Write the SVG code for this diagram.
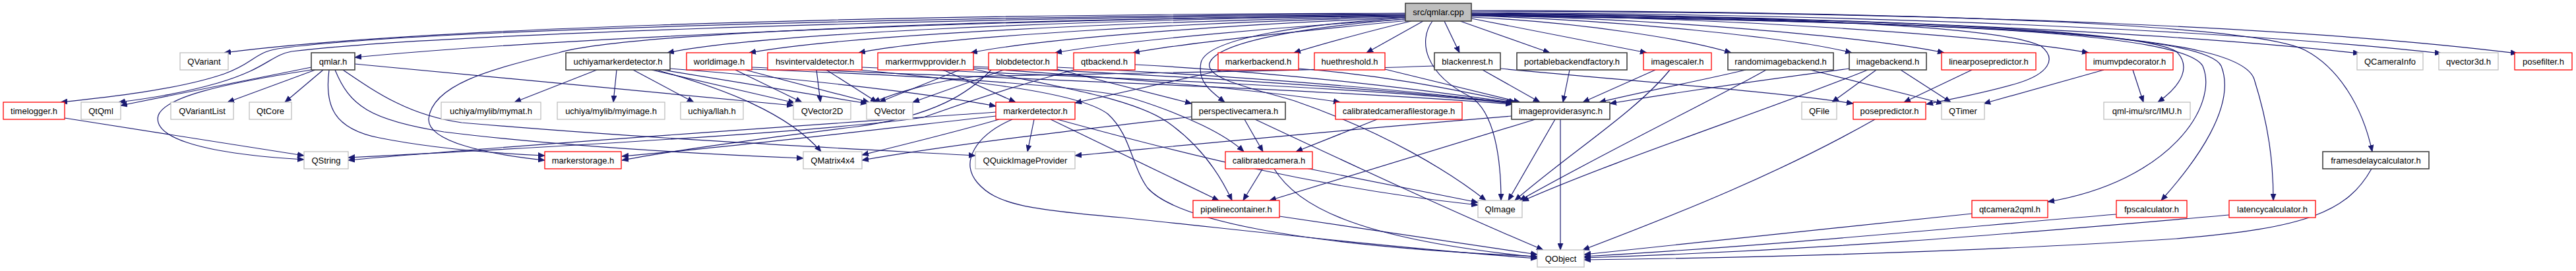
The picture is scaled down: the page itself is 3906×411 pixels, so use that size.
<svg xmlns="http://www.w3.org/2000/svg" width="3906" height="411" viewBox="0 0 3906 411">
<defs>
<style>
.n rect{fill:#fff;stroke-width:1.3}
.red rect{stroke:#ff0000}
.gry rect{stroke:#bfbfbf}
.blk rect{stroke:#404040;stroke-width:1.6}
.root rect{fill:#bfbfbf;stroke:#404040;stroke-width:1.6}
.n text{font-family:"Liberation Sans",Arial,sans-serif;font-size:13px;fill:#000;text-anchor:middle}
#edges path{fill:none;stroke:#191970;stroke-width:1.2;marker-end:url(#a)}
</style>
<marker id="a" markerUnits="userSpaceOnUse" markerWidth="11" markerHeight="9" refX="10" refY="4.5" orient="auto"><path d="M0,0.5L10,4.5L0,8.5z" fill="#191970" stroke="#191970" stroke-width="0.8"/></marker>
</defs>
<rect width="3906" height="411" fill="#fff"/>
<g id="edges">
<path d="M2131,20 C1240,22 600,46 340,80"/>
<path d="M2131,21 C1300,26 600,48 421,74 C385,80 385,96 340,112 C270,136 160,148 92,155"/>
<path d="M2131,22 C1300,28 620,56 442,78 C410,84 405,104 330,126 C270,143 220,150 180,155"/>
<path d="M2131,23 C1400,30 800,62 538,87"/>
<path d="M2131,24 C1600,30 1150,52 1012,80"/>
<path d="M2131,25 C1700,32 1280,54 1136,80"/>
<path d="M2131,26 C1800,34 1420,56 1302,80"/>
<path d="M2131,27 C1880,36 1580,58 1472,80"/>
<path d="M2133,29 C1950,40 1700,62 1600,80"/>
<path d="M2136,31 C2000,44 1790,66 1718,80"/>
<path d="M2140,32 C2080,46 2000,68 1962,80"/>
<path d="M2158,32 L2072,80"/>
<path d="M2190,32 L2213,80"/>
<path d="M2214,32 L2350,80"/>
<path d="M2231,28 L2497,80"/>
<path d="M2231,26 C2400,34 2560,60 2625,80"/>
<path d="M2231,24 C2460,30 2720,58 2808,80"/>
<path d="M2231,23 C2520,28 2830,56 2948,80"/>
<path d="M2231,22 C2620,26 3020,54 3167,80"/>
<path d="M2231,20 C2800,24 3320,52 3578,81"/>
<path d="M2231,19 C2900,22 3420,50 3702,81"/>
<path d="M2231,17 C3000,18 3520,44 3817,81"/>
<path d="M2231,21 C2900,28 3250,48 3300,78 C3322,100 3310,128 3272,155"/>
<path d="M2231,22 C2950,32 3310,50 3340,100 C3365,160 3290,275 3105,306"/>
<path d="M2231,23 C3000,34 3345,52 3368,100 C3392,160 3330,245 3277,304"/>
<path d="M2231,24 C3050,34 3395,52 3418,120 C3440,190 3447,245 3447,304"/>
<path d="M2231,16 C2950,18 3420,38 3495,76 C3545,102 3582,160 3597,230"/>
<path d="M2231,21 C2700,26 3030,38 3095,70 C3120,90 3105,112 3060,126 C3010,141 2960,150 2921,158"/>
<path d="M2131,27 C1990,36 1830,56 1821,95 C1815,125 1838,140 1857,155"/>
<path d="M2131,29 C1990,40 1845,62 1834,96 C1828,120 1900,134 1963,153 C2100,200 2200,262 2253,304"/>
<path d="M2172,32 C2150,62 2160,112 2230,147 C2266,170 2276,240 2276,304"/>
<path d="M2131,24 C1500,28 950,50 847,80 C740,105 655,130 650,180 C648,215 740,234 826,243"/>
<path d="M472,102 L183,160"/>
<path d="M472,106 C330,128 250,148 240,175 C232,205 290,232 461,242"/>
<path d="M478,106 L345,155"/>
<path d="M490,106 L432,155"/>
<path d="M499,106 C492,160 505,195 575,209 C650,224 740,232 826,236"/>
<path d="M508,106 C530,160 560,182 673,200 C850,222 1050,233 1218,240"/>
<path d="M520,106 C570,140 620,175 700,186 C1000,212 1300,226 1479,236"/>
<path d="M538,97 L1203,160"/>
<path d="M98,179 L461,236"/>
<path d="M905,106 L780,155"/>
<path d="M935,106 L930,155"/>
<path d="M960,106 L1052,155"/>
<path d="M988,106 L1205,156"/>
<path d="M995,106 C1100,135 1195,172 1245,230"/>
<path d="M1005,106 L1315,157"/>
<path d="M1016,104 C1200,118 1400,140 1510,161"/>
<path d="M1115,106 L1216,155"/>
<path d="M1130,106 L1318,155"/>
<path d="M1140,102 C1500,118 2000,135 2293,158"/>
<path d="M1140,105 C1400,115 1650,130 1720,150 C1800,175 1860,205 1886,230"/>
<path d="M1238,106 L1244,155"/>
<path d="M1253,106 L1330,155"/>
<path d="M1307,102 C1700,118 2100,135 2294,157"/>
<path d="M1303,106 C1500,125 1640,142 1680,173 C1715,205 1715,250 1740,285 C1780,330 1950,372 2331,389"/>
<path d="M1430,106 L1540,155"/>
<path d="M1455,106 L1333,155"/>
<path d="M1476,101 C1800,115 2100,135 2295,156"/>
<path d="M1476,105 C1600,130 1720,150 1770,185 C1820,220 1850,265 1868,304"/>
<path d="M1476,103 C1700,118 1900,135 2032,155"/>
<path d="M1522,106 L1384,155"/>
<path d="M1603,105 L1807,157"/>
<path d="M1603,102 C1900,116 2150,138 2296,157"/>
<path d="M1503,106 C1470,140 1420,175 1300,192 C1150,210 1000,232 943,243"/>
<path d="M1628,106 C1540,130 1450,160 1400,178 C1250,200 800,225 528,239"/>
<path d="M1721,98 C1950,110 2150,135 2297,156"/>
<path d="M1855,106 L1630,156"/>
<path d="M1969,104 C2100,114 2200,135 2298,155"/>
<path d="M2100,105 L2305,155"/>
<path d="M2248,106 L2335,155"/>
<path d="M2175,100 C1900,110 1600,112 1480,116 C1420,122 1360,140 1324,155"/>
<path d="M2275,104 C2500,125 2700,140 2810,157"/>
<path d="M2380,106 L2370,155"/>
<path d="M2510,106 L2400,155"/>
<path d="M2532,106 C2480,170 2380,232 2297,304"/>
<path d="M2647,106 C2580,122 2500,137 2425,155"/>
<path d="M2678,106 C2600,150 2450,222 2304,304"/>
<path d="M2745,106 L2946,157"/>
<path d="M2804,104 C2650,124 2520,144 2441,157"/>
<path d="M2832,106 C2700,160 2450,242 2308,305"/>
<path d="M2845,106 L2778,155"/>
<path d="M2882,106 L2958,155"/>
<path d="M2990,106 L2887,155"/>
<path d="M3190,106 L3008,157"/>
<path d="M3234,106 L3250,155"/>
<path d="M1510,170 C1300,185 800,218 528,243"/>
<path d="M1510,176 C1350,194 1100,224 943,237"/>
<path d="M1515,181 C1450,200 1360,222 1307,235"/>
<path d="M1568,181 L1558,230"/>
<path d="M1593,181 L1848,304"/>
<path d="M1603,181 C1800,235 2000,285 2241,311"/>
<path d="M1535,181 C1480,205 1455,245 1482,277 C1510,310 1560,318 1701,330 C1850,345 2100,375 2331,392"/>
<path d="M1887,181 L1915,230"/>
<path d="M1807,177 C1650,195 1450,218 1307,243"/>
<path d="M1903,181 C2050,250 2200,320 2340,379"/>
<path d="M2088,181 L1965,230"/>
<path d="M2292,176 C2000,200 1800,220 1630,236"/>
<path d="M2328,181 L1925,304"/>
<path d="M2358,181 L2287,304"/>
<path d="M2366,181 L2366,379"/>
<path d="M1915,255 L1885,304"/>
<path d="M1980,255 L2241,307"/>
<path d="M1932,256 C1965,310 2050,362 2331,390"/>
<path d="M1940,328 L2331,386"/>
<path d="M2843,181 C2700,262 2550,322 2400,379"/>
<path d="M2990,324 L2402,386"/>
<path d="M3209,325 C3000,342 2700,372 2402,389"/>
<path d="M3380,326 C3100,350 2800,378 2402,391"/>
<path d="M3596,256 C3560,320 3500,346 3300,362 C3000,382 2700,390 2402,394"/>
</g>
<g id="node-root" class="n root"><rect x="2131" y="5" width="100" height="27"/><text x="2181" y="23">src/qmlar.cpp</text></g>
<g id="node-QVariant" class="n gry"><rect x="273" y="80" width="73" height="26"/><text x="309.5" y="97.5">QVariant</text></g>
<g id="node-qmlar" class="n blk"><rect x="472" y="80" width="66" height="26"/><text x="505" y="97.5">qmlar.h</text></g>
<g id="node-uchiyamarkerdetector" class="n blk"><rect x="858" y="80" width="158" height="26"/><text x="937" y="97.5">uchiyamarkerdetector.h</text></g>
<g id="node-worldimage" class="n red"><rect x="1041" y="80" width="99" height="26"/><text x="1090.5" y="97.5">worldimage.h</text></g>
<g id="node-hsvintervaldetector" class="n red"><rect x="1164" y="80" width="143" height="26"/><text x="1235.5" y="97.5">hsvintervaldetector.h</text></g>
<g id="node-markermvpprovider" class="n red"><rect x="1331" y="80" width="145" height="26"/><text x="1403.5" y="97.5">markermvpprovider.h</text></g>
<g id="node-blobdetector" class="n red"><rect x="1499" y="80" width="104" height="26"/><text x="1551" y="97.5">blobdetector.h</text></g>
<g id="node-qtbackend" class="n red"><rect x="1628" y="80" width="93" height="26"/><text x="1674.5" y="97.5">qtbackend.h</text></g>
<g id="node-markerbackend" class="n red"><rect x="1847" y="80" width="122" height="26"/><text x="1908" y="97.5">markerbackend.h</text></g>
<g id="node-huethreshold" class="n red"><rect x="1993" y="80" width="107" height="26"/><text x="2046.5" y="97.5">huethreshold.h</text></g>
<g id="node-blackenrest" class="n blk"><rect x="2175" y="80" width="100" height="26"/><text x="2225" y="97.5">blackenrest.h</text></g>
<g id="node-portablebackendfactory" class="n blk"><rect x="2300" y="80" width="167" height="26"/><text x="2383.5" y="97.5">portablebackendfactory.h</text></g>
<g id="node-imagescaler" class="n red"><rect x="2492" y="80" width="103" height="26"/><text x="2543.5" y="97.5">imagescaler.h</text></g>
<g id="node-randomimagebackend" class="n blk"><rect x="2620" y="80" width="160" height="26"/><text x="2700" y="97.5">randomimagebackend.h</text></g>
<g id="node-imagebackend" class="n blk"><rect x="2804" y="80" width="117" height="26"/><text x="2862.5" y="97.5">imagebackend.h</text></g>
<g id="node-linearposepredictor" class="n red"><rect x="2944" y="80" width="143" height="26"/><text x="3015.5" y="97.5">linearposepredictor.h</text></g>
<g id="node-imumvpdecorator" class="n red"><rect x="3163" y="80" width="132" height="26"/><text x="3229" y="97.5">imumvpdecorator.h</text></g>
<g id="node-QCameraInfo" class="n gry"><rect x="3574" y="80" width="100" height="26"/><text x="3624" y="97.5">QCameraInfo</text></g>
<g id="node-qvector3d" class="n gry"><rect x="3698" y="80" width="90" height="26"/><text x="3743" y="97.5">qvector3d.h</text></g>
<g id="node-posefilter" class="n red"><rect x="3813" y="80" width="87" height="26"/><text x="3856.5" y="97.5">posefilter.h</text></g>
<g id="node-timelogger" class="n red"><rect x="5" y="155" width="93" height="26"/><text x="51.5" y="172.5">timelogger.h</text></g>
<g id="node-QtQml" class="n gry"><rect x="123" y="155" width="60" height="26"/><text x="153" y="172.5">QtQml</text></g>
<g id="node-QVariantList" class="n gry"><rect x="259" y="155" width="95" height="26"/><text x="306.5" y="172.5">QVariantList</text></g>
<g id="node-QtCore" class="n gry"><rect x="378" y="155" width="64" height="26"/><text x="410" y="172.5">QtCore</text></g>
<g id="node-mymat" class="n gry"><rect x="669" y="155" width="151" height="26"/><text x="744.5" y="172.5">uchiya/mylib/mymat.h</text></g>
<g id="node-myimage" class="n gry"><rect x="845" y="155" width="163" height="26"/><text x="926.5" y="172.5">uchiya/mylib/myimage.h</text></g>
<g id="node-llah" class="n gry"><rect x="1032" y="155" width="95" height="26"/><text x="1079.5" y="172.5">uchiya/llah.h</text></g>
<g id="node-QVector2D" class="n gry"><rect x="1203" y="155" width="87" height="26"/><text x="1246.5" y="172.5">QVector2D</text></g>
<g id="node-QVector" class="n gry"><rect x="1314" y="155" width="70" height="26"/><text x="1349" y="172.5">QVector</text></g>
<g id="node-markerdetector" class="n red"><rect x="1510" y="155" width="120" height="26"/><text x="1570" y="172.5">markerdetector.h</text></g>
<g id="node-perspectivecamera" class="n blk"><rect x="1807" y="155" width="142" height="26"/><text x="1878" y="172.5">perspectivecamera.h</text></g>
<g id="node-calibratedcamerafilestorage" class="n red"><rect x="2025" y="155" width="192" height="26"/><text x="2121" y="172.5">calibratedcamerafilestorage.h</text></g>
<g id="node-imageproviderasync" class="n blk"><rect x="2292" y="155" width="149" height="26"/><text x="2366.5" y="172.5">imageproviderasync.h</text></g>
<g id="node-QFile" class="n gry"><rect x="2732" y="155" width="53" height="26"/><text x="2758.5" y="172.5">QFile</text></g>
<g id="node-posepredictor" class="n red"><rect x="2810" y="155" width="110" height="26"/><text x="2865" y="172.5">posepredictor.h</text></g>
<g id="node-QTimer" class="n gry"><rect x="2944" y="155" width="65" height="26"/><text x="2976.5" y="172.5">QTimer</text></g>
<g id="node-IMU" class="n gry"><rect x="3190" y="155" width="131" height="26"/><text x="3255.5" y="172.5">qml-imu/src/IMU.h</text></g>
<g id="node-QString" class="n gry"><rect x="461" y="230" width="67" height="26"/><text x="494.5" y="247.5">QString</text></g>
<g id="node-markerstorage" class="n red"><rect x="826" y="230" width="116" height="26"/><text x="884" y="247.5">markerstorage.h</text></g>
<g id="node-QMatrix4x4" class="n gry"><rect x="1218" y="230" width="89" height="26"/><text x="1262.5" y="247.5">QMatrix4x4</text></g>
<g id="node-QQuickImageProvider" class="n gry"><rect x="1479" y="230" width="151" height="26"/><text x="1554.5" y="247.5">QQuickImageProvider</text></g>
<g id="node-calibratedcamera" class="n red"><rect x="1858" y="230" width="132" height="26"/><text x="1924" y="247.5">calibratedcamera.h</text></g>
<g id="node-framesdelaycalculator" class="n blk"><rect x="3522" y="230" width="161" height="26"/><text x="3602.5" y="247.5">framesdelaycalculator.h</text></g>
<g id="node-pipelinecontainer" class="n red"><rect x="1809" y="304" width="131" height="26"/><text x="1874.5" y="321.5">pipelinecontainer.h</text></g>
<g id="node-QImage" class="n gry"><rect x="2241" y="304" width="67" height="26"/><text x="2274.5" y="321.5">QImage</text></g>
<g id="node-qtcamera2qml" class="n red"><rect x="2990" y="304" width="115" height="26"/><text x="3047.5" y="321.5">qtcamera2qml.h</text></g>
<g id="node-fpscalculator" class="n red"><rect x="3209" y="304" width="107" height="26"/><text x="3262.5" y="321.5">fpscalculator.h</text></g>
<g id="node-latencycalculator" class="n red"><rect x="3380" y="304" width="131" height="26"/><text x="3445.5" y="321.5">latencycalculator.h</text></g>
<g id="node-QObject" class="n gry"><rect x="2331" y="379" width="71" height="26"/><text x="2366.5" y="396.5">QObject</text></g>
</svg>
